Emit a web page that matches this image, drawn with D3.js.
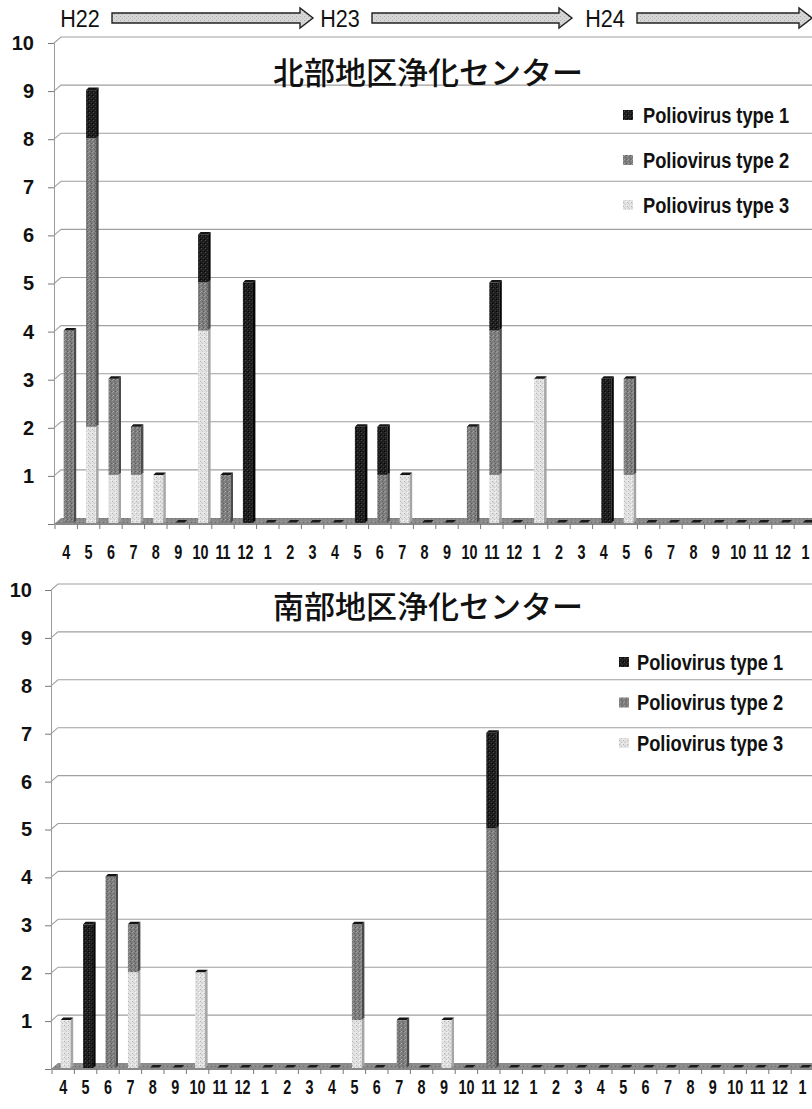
<!DOCTYPE html>
<html>
<head>
<meta charset="utf-8">
<script src="https://cdn.jsdelivr.net/npm/d3@7"></script>
<style>
  body { margin: 0; background: #fff; }
  svg { display: block; }
</style>
</head>
<body>
<svg id="chart" width="812" height="1109"></svg>
<script>
// Monthly sampling, April H22 through January H25
const monthLabels = [
  "4","5","6","7","8","9","10","11","12","1","2","3",
  "4","5","6","7","8","9","10","11","12","1","2","3",
  "4","5","6","7","8","9","10","11","12","1"
];
const fiscalYears = ["H22", "H23", "H24"];
const seriesNames = ["Poliovirus type 1", "Poliovirus type 2", "Poliovirus type 3"];
const yTickValues = [0, 1, 2, 3, 4, 5, 6, 7, 8, 9, 10];

// 北部地区浄化センター
const northTitle = "北部地区浄化センター";
const northType1 = [0,1,0,0,0,0,1,0,5,0,0,0, 0,2,1,0,0,0,0,1,0,0,0,0, 3,0,0,0,0,0,0,0,0,0];
const northType2 = [4,6,2,1,0,0,1,1,0,0,0,0, 0,0,1,0,0,0,2,3,0,0,0,0, 0,2,0,0,0,0,0,0,0,0];
const northType3 = [0,2,1,1,1,0,4,0,0,0,0,0, 0,0,0,1,0,0,0,1,0,3,0,0, 0,1,0,0,0,0,0,0,0,0];

// 南部地区浄化センター
const southTitle = "南部地区浄化センター";
const southType1 = [0,3,0,0,0,0,0,0,0,0,0,0, 0,0,0,0,0,0,0,2,0,0,0,0, 0,0,0,0,0,0,0,0,0,0];
const southType2 = [0,0,4,1,0,0,0,0,0,0,0,0, 0,2,0,1,0,0,0,5,0,0,0,0, 0,0,0,0,0,0,0,0,0,0];
const southType3 = [1,0,0,2,0,0,2,0,0,0,0,0, 0,1,0,0,0,1,0,0,0,0,0,0, 0,0,0,0,0,0,0,0,0,0];

const SANS = "'Liberation Sans', Arial, sans-serif";
const CJK_FONT = "'Noto Sans CJK JP', 'Noto Sans CJK SC', sans-serif";

const svg = d3.select("#chart");
const defs = svg.append("defs");

// speckled fills for the columns, legend keys and floor
function speckle(id, base, dots) {
  const p = defs.append("pattern").attr("id", id)
    .attr("width", 4).attr("height", 4).attr("patternUnits", "userSpaceOnUse");
  p.append("rect").attr("width", 4).attr("height", 4).attr("fill", base);
  dots.forEach(([x, y, c]) => p.append("rect").attr("x", x).attr("y", y)
    .attr("width", 1).attr("height", 1).attr("fill", c));
}
speckle("fill-t1", "#1d1d1d", [[1,0,"#4a4a4a"],[3,2,"#3a3a3a"],[0,3,"#000"]]);
speckle("fill-t2", "#7e7e7e", [[0,0,"#9a9a9a"],[2,1,"#666"],[1,3,"#a4a4a4"],[3,3,"#5c5c5c"]]);
speckle("fill-t3", "#e2e2e2", [[0,1,"#b5b5b5"],[2,3,"#c4c4c4"],[3,0,"#f4f4f4"],[1,2,"#cfcfcf"]]);
speckle("fill-floor", "#8a8a8a", [[1,1,"#a0a0a0"],[3,2,"#6c6c6c"]]);
speckle("fill-arrow", "#d6d6d6", [[0,0,"#aaa"],[2,2,"#b8b8b8"]]);

const fills = { t1: "url(#fill-t1)", t2: "url(#fill-t2)", t3: "url(#fill-t3)" };
const sideFills = { t1: "#050505", t2: "#4b4b4b", t3: "#a5a5a5" };

const DEPTH_X = 7, DEPTH_Y = -6;

function drawPanel(cfg) {
  const g = svg.append("g");
  const n = monthLabels.length;
  const x = d3.scaleBand().domain(d3.range(n))
    .range([cfg.x0, cfg.x0 + cfg.step * n]);
  const y = d3.scaleLinear().domain([0, 10]).range([cfg.y0, cfg.y0 - cfg.unit * 10]);

  // back wall gridlines with the short slanted run from the axis
  g.append("g").selectAll("path").data(yTickValues.filter(v => v > 0)).join("path")
    .attr("d", v => `M${cfg.x0 - 1},${y(v)} L${cfg.x0 - 1 + DEPTH_X},${y(v) + DEPTH_Y} L840,${y(v) + DEPTH_Y}`)
    .attr("fill", "none").attr("stroke", "#a0a0a0").attr("stroke-width", 1.1);

  // value axis
  const yAxis = d3.axisLeft(y).tickValues(yTickValues)
    .tickFormat(v => v === 0 ? "" : v).tickSize(6).tickPadding(cfg.labelPad);
  const ya = g.append("g").attr("transform", `translate(${cfg.x0 - 1},0)`).call(yAxis);
  ya.select(".domain").attr("stroke", "#9a9a9a");
  ya.selectAll(".tick line").attr("stroke", "#777");
  ya.selectAll("text").attr("font-family", SANS).attr("font-weight", "bold")
    .attr("font-size", 20).attr("fill", "#111");

  // floor
  const xEnd = cfg.x0 + cfg.step * n + 20;
  g.append("path")
    .attr("d", `M${cfg.x0 - 1},${y(0)} L${cfg.x0 - 1 + DEPTH_X},${y(0) + DEPTH_Y} L${xEnd + DEPTH_X},${y(0) + DEPTH_Y} L${xEnd},${y(0)} Z`)
    .attr("fill", "url(#fill-floor)");

  // category axis: boundary ticks and month labels (narrow bold)
  const xAxis = d3.axisBottom(x).tickSize(0).tickPadding(cfg.monthPad)
    .tickFormat(i => monthLabels[i]);
  const xa = g.append("g").attr("transform", `translate(0,${y(0)})`).call(xAxis);
  xa.select(".domain").attr("stroke", "#888");
  xa.selectAll("text").attr("font-family", SANS).attr("font-weight", "bold")
    .attr("font-size", 20).attr("fill", "#111").attr("transform", "scale(0.72,1)");
  g.append("g").selectAll("line").data(d3.range(n + 1)).join("line")
    .attr("x1", i => cfg.x0 + cfg.step * i).attr("x2", i => cfg.x0 + cfg.step * i)
    .attr("y1", y(0)).attr("y2", y(0) + 5)
    .attr("stroke", "#777");

  // stacked columns (type 3 at the base, type 1 on top)
  const rows = d3.range(n).map(i => ({ i, t1: cfg.t1[i], t2: cfg.t2[i], t3: cfg.t3[i] }));
  const stacked = d3.stack().keys(["t3", "t2", "t1"])(rows);
  const bw = 10, off = 2.5, sd = 2.5;
  const bars = g.append("g");
  stacked.forEach(layer => {
    const key = layer.key;
    layer.forEach(seg => {
      if (seg[1] - seg[0] <= 0) return;
      const left = x(seg.data.i) + x.bandwidth() / 2 - bw / 2 + off;
      const top = y(seg[1]) - 1, bottom = y(seg[0]) - 1;
      bars.append("rect").attr("x", left).attr("y", top)
        .attr("width", bw).attr("height", bottom - top).attr("fill", fills[key]);
      bars.append("path")
        .attr("d", `M${left + bw},${top} L${left + bw + sd},${top - sd} L${left + bw + sd},${bottom - sd} L${left + bw},${bottom} Z`)
        .attr("fill", sideFills[key]);
    });
  });
  // dark top caps on every column, including empty months
  rows.forEach(r => {
    const total = r.t1 + r.t2 + r.t3;
    const left = x(r.i) + x.bandwidth() / 2 - bw / 2 + off;
    const top = y(total) - 1;
    if (total > 0) {
      bars.append("path")
        .attr("d", `M${left},${top} L${left + sd},${top - sd} L${left + bw + sd},${top - sd} L${left + bw},${top} Z`)
        .attr("fill", "#141414");
    } else {
      bars.append("path")
        .attr("d", `M${left},${top - 0.5} L${left + sd},${top - sd - 0.5} L${left + bw - 1 + sd},${top - sd - 0.5} L${left + bw - 1},${top - 0.5} Z`)
        .attr("fill", "#1a1a1a");
    }
  });

  // title
  g.append("text").attr("x", cfg.titleX).attr("y", cfg.titleY)
    .attr("text-anchor", "middle").attr("dominant-baseline", "central")
    .attr("font-family", CJK_FONT).attr("font-weight", 500).attr("font-size", 31)
    .attr("fill", "#111").text(cfg.title);

  // legend
  const lg = g.append("g").attr("transform", `translate(${cfg.legendX},${cfg.legendY})`);
  ["t1", "t2", "t3"].forEach((k, j) => {
    const row = lg.append("g").attr("transform", `translate(0,${j * cfg.legendGap})`);
    row.append("rect").attr("x", 0).attr("y", -5).attr("width", 10).attr("height", 10)
      .attr("fill", fills[k]);
    row.append("g").attr("transform", `translate(${cfg.legendTextDx},0) scale(0.85,1)`)
      .append("text").attr("x", 0).attr("y", 0).attr("dominant-baseline", "central")
      .attr("font-family", SANS).attr("font-weight", "bold").attr("font-size", 21.5)
      .attr("fill", "#111").text(seriesNames[j]);
  });
}

drawPanel({
  title: northTitle, t1: northType1, t2: northType2, t3: northType3,
  x0: 55, step: 22.4, y0: 524, unit: 48.1, labelPad: 14, monthPad: 21,
  titleX: 428, titleY: 70, legendX: 623, legendY: 115, legendGap: 45, legendTextDx: 20
});
drawPanel({
  title: southTitle, t1: southType1, t2: southType2, t3: southType3,
  x0: 52, step: 22.4, y0: 1069, unit: 47.9, labelPad: 13, monthPad: 11,
  titleX: 428, titleY: 604, legendX: 619, legendY: 662, legendGap: 40.5, legendTextDx: 18
});

// fiscal-year banner across the top: label followed by a block arrow
const banner = svg.append("g");
const bannerLabelX = [80, 340, 605];
const arrowSpans = [[112, 313], [372, 572], [637, 812]];
fiscalYears.forEach((fy, j) => {
  banner.append("g").attr("transform", `translate(${bannerLabelX[j]},19) scale(0.9,1)`)
    .append("text").attr("text-anchor", "middle").attr("dominant-baseline", "central")
    .attr("font-family", SANS).attr("font-size", 24).attr("fill", "#111").text(fy);
  const [a, b] = arrowSpans[j];
  const yc = 18, sh = 5, hh = 10, hl = 13;
  banner.append("path")
    .attr("d", `M${a},${yc - sh} L${b - hl},${yc - sh} L${b - hl},${yc - hh} L${b},${yc} L${b - hl},${yc + hh} L${b - hl},${yc + sh} L${a},${yc + sh} Z`)
    .attr("fill", "url(#fill-arrow)").attr("stroke", "#222").attr("stroke-width", 1.4);
});
</script>
</body>
</html>
